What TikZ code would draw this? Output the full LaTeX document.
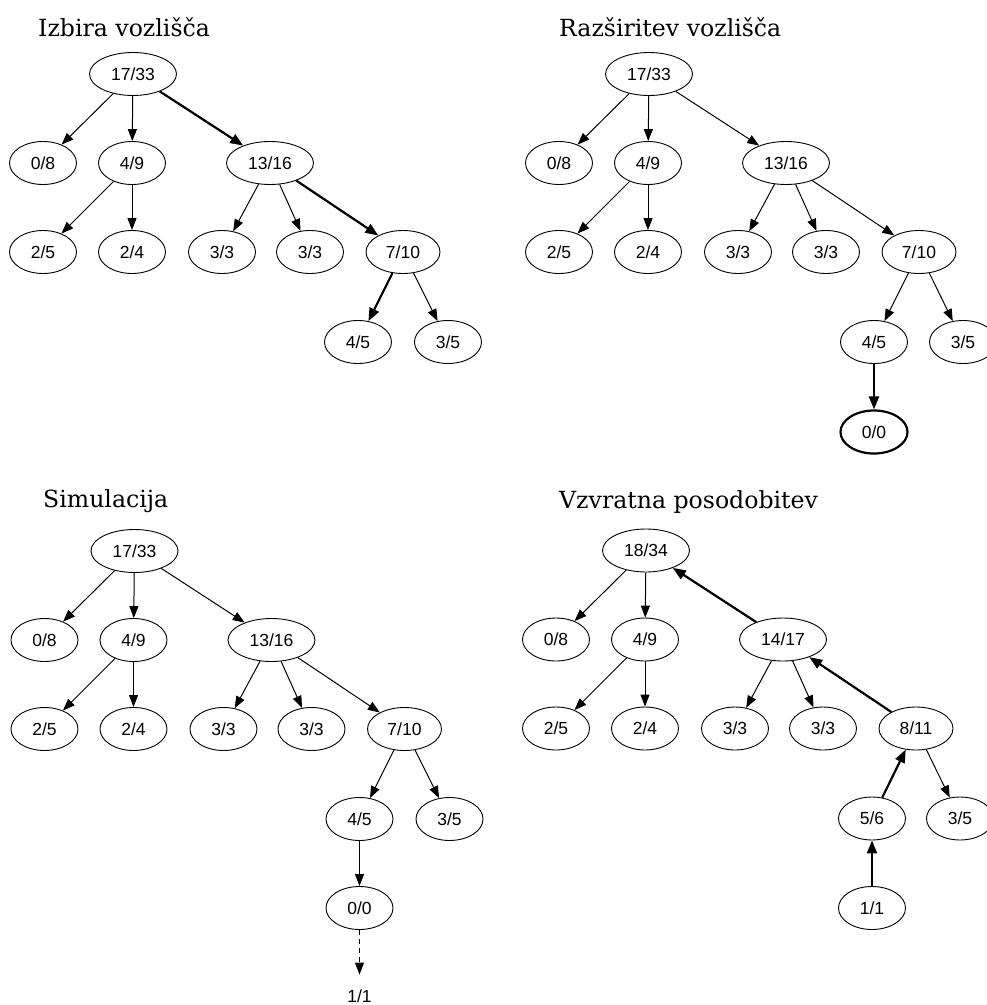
\documentclass[tikz,border=0pt]{standalone}
\usepackage{fontspec}
\usetikzlibrary{shapes.geometric,arrows.meta}
\newfontfamily\labelfont{Liberation Sans}
\newfontfamily\headfont{DejaVu Serif}

\begin{document}
\begin{tikzpicture}[x=1pt, y=-1pt,
            every node/.style={inner sep=0pt}
        ]
        \tikzstyle {tree_node} = [ellipse, draw, line width=0.9pt, minimum width=67pt, minimum height=43pt, font=\labelfont\fontsize{17.5}{20}\selectfont]
        \tikzstyle {wide_node} = [tree_node, minimum width=87pt]
        \tikzstyle {mid_node} = [tree_node, minimum width=74pt]
        \tikzstyle {new_node} = [tree_node, line width=2.2pt]
        \tikzstyle {free_node} = [tree_node, draw=none]
        \tikzstyle {title_text} = [anchor=base west, font=\headfont\fontsize{23.6}{28}\selectfont]
        \tikzstyle {edge_thin} = [-{Triangle[length=12pt, width=9pt]}, line width=1pt]
        \tikzstyle {edge_bold} = [-{Triangle[length=13pt, width=10pt]}, line width=2.2pt]
        \tikzstyle {edge_dash} = [edge_thin, dash pattern=on 5pt off 4pt]

        \useasboundingbox (0,0) rectangle (987,1005);

        % selection
        \node [title_text] (t_sel) at (38,36) {Izbira vozlišča};
        \begin{scope}[shift={(0,0)}]
        \node [wide_node] (a_root) at (133,74) {17/33};
        \node [tree_node] (a_08) at (43,163) {0/8};
        \node [tree_node] (a_49) at (132,163) {4/9};
        \node [wide_node] (a_1316) at (270,163) {13/16};
        \node [tree_node] (a_25) at (43,252) {2/5};
        \node [tree_node] (a_24) at (132,252) {2/4};
        \node [tree_node] (a_33l) at (222,252) {3/3};
        \node [tree_node] (a_33r) at (310,252) {3/3};
        \node [mid_node] (a_710) at (403,252) {7/10};
        \node [tree_node] (a_45) at (358,342) {4/5};
        \node [tree_node] (a_35) at (448,342) {3/5};
        \end{scope}

        \draw [edge_thin] (a_root) -- (a_08);
        \draw [edge_thin] (a_root) -- (a_49);
        \draw [edge_bold] (a_root) -- (a_1316);
        \draw [edge_thin] (a_49) -- (a_25);
        \draw [edge_thin] (a_49) -- (a_24);
        \draw [edge_thin] (a_1316) -- (a_33l);
        \draw [edge_thin] (a_1316) -- (a_33r);
        \draw [edge_bold] (a_1316) -- (a_710);
        \draw [edge_bold] (a_710) -- (a_45);
        \draw [edge_thin] (a_710) -- (a_35);

        % expansion
        \node [title_text] (t_exp) at (559,36) {Razširitev vozlišča};
        \begin{scope}[shift={(516,0)}]
        \node [wide_node] (b_root) at (133,74) {17/33};
        \node [tree_node] (b_08) at (43,163) {0/8};
        \node [tree_node] (b_49) at (132,163) {4/9};
        \node [wide_node] (b_1316) at (270,163) {13/16};
        \node [tree_node] (b_25) at (43,252) {2/5};
        \node [tree_node] (b_24) at (132,252) {2/4};
        \node [tree_node] (b_33l) at (222,252) {3/3};
        \node [tree_node] (b_33r) at (310,252) {3/3};
        \node [mid_node] (b_710) at (403,252) {7/10};
        \node [tree_node] (b_45) at (358,342) {4/5};
        \node [tree_node] (b_35) at (447,342) {3/5};
        \node [new_node] (b_00) at (358,432) {0/0};
        \end{scope}

        \draw [edge_thin] (b_root) -- (b_08);
        \draw [edge_thin] (b_root) -- (b_49);
        \draw [edge_thin] (b_root) -- (b_1316);
        \draw [edge_thin] (b_49) -- (b_25);
        \draw [edge_thin] (b_49) -- (b_24);
        \draw [edge_thin] (b_1316) -- (b_33l);
        \draw [edge_thin] (b_1316) -- (b_33r);
        \draw [edge_thin] (b_1316) -- (b_710);
        \draw [edge_thin] (b_710) -- (b_45);
        \draw [edge_thin] (b_710) -- (b_35);
        \draw [edge_bold] (b_45) -- (b_00);

        % simulation
        \node [title_text] (t_sim) at (43,507) {Simulacija};
        \begin{scope}[shift={(1.5,477)}]
        \node [wide_node] (c_root) at (133,74) {17/33};
        \node [tree_node] (c_08) at (43,163) {0/8};
        \node [tree_node] (c_49) at (132,163) {4/9};
        \node [wide_node] (c_1316) at (270,163) {13/16};
        \node [tree_node] (c_25) at (43,252) {2/5};
        \node [tree_node] (c_24) at (132,252) {2/4};
        \node [tree_node] (c_33l) at (222,252) {3/3};
        \node [tree_node] (c_33r) at (310,252) {3/3};
        \node [mid_node] (c_710) at (403,252) {7/10};
        \node [tree_node] (c_45) at (358,342) {4/5};
        \node [tree_node] (c_35) at (448,342) {3/5};
        \node [tree_node] (c_00) at (358,431) {0/0};
        \node [free_node] (c_11) at (358,519.5) {1/1};
        \end{scope}

        \draw [edge_thin] (c_root) -- (c_08);
        \draw [edge_thin] (c_root) -- (c_49);
        \draw [edge_thin] (c_root) -- (c_1316);
        \draw [edge_thin] (c_49) -- (c_25);
        \draw [edge_thin] (c_49) -- (c_24);
        \draw [edge_thin] (c_1316) -- (c_33l);
        \draw [edge_thin] (c_1316) -- (c_33r);
        \draw [edge_thin] (c_1316) -- (c_710);
        \draw [edge_thin] (c_710) -- (c_45);
        \draw [edge_thin] (c_710) -- (c_35);
        \draw [edge_thin] (c_45) -- (c_00);
        \draw [edge_dash] (c_00) -- (c_11);

        % backpropagation
        \node [title_text] (t_bck) at (559,508) {Vzvratna posodobitev};
        \begin{scope}[shift={(513,476.5)}]
        \node [wide_node] (d_root) at (133,74) {18/34};
        \node [tree_node] (d_08) at (43,163) {0/8};
        \node [tree_node] (d_49) at (132,163) {4/9};
        \node [wide_node] (d_1417) at (270,163) {14/17};
        \node [tree_node] (d_25) at (43,252) {2/5};
        \node [tree_node] (d_24) at (132,252) {2/4};
        \node [tree_node] (d_33l) at (222,252) {3/3};
        \node [tree_node] (d_33r) at (310,252) {3/3};
        \node [mid_node] (d_811) at (403,252) {8/11};
        \node [tree_node] (d_56) at (359,342) {5/6};
        \node [tree_node] (d_35) at (447,342) {3/5};
        \node [tree_node] (d_11) at (359,431.5) {1/1};
        \end{scope}

        \draw [edge_thin] (d_root) -- (d_08);
        \draw [edge_thin] (d_root) -- (d_49);
        \draw [edge_bold] (d_1417) -- (d_root);
        \draw [edge_thin] (d_49) -- (d_25);
        \draw [edge_thin] (d_49) -- (d_24);
        \draw [edge_thin] (d_1417) -- (d_33l);
        \draw [edge_thin] (d_1417) -- (d_33r);
        \draw [edge_bold] (d_811) -- (d_1417);
        \draw [edge_bold] (d_56) -- (d_811);
        \draw [edge_thin] (d_811) -- (d_35);
        \draw [edge_bold] (d_11) -- (d_56);

\end{tikzpicture}
\end{document}
